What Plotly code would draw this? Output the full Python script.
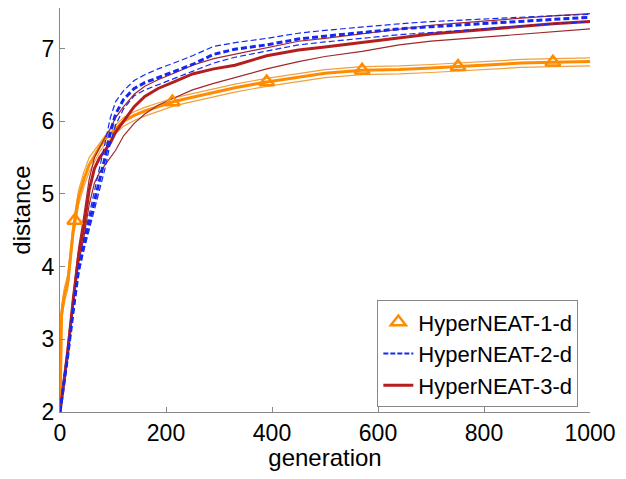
import numpy as np
import plotly.graph_objects as go

generation = [0, 3, 8, 15, 25, 35, 45, 55, 65, 75, 85, 95, 105, 120, 140, 160, 185, 215, 250,
              290, 330, 390, 450, 500, 570, 640, 700, 750, 800, 870, 930, 1000]

h1_mean = [2.0, 3.35, 3.6, 3.8, 4.5, 4.95, 5.2, 5.4, 5.52, 5.65, 5.75, 5.83, 5.9, 6.0, 6.08, 6.14,
           6.2, 6.27, 6.33, 6.4, 6.46, 6.54, 6.6, 6.66, 6.7, 6.71, 6.73, 6.75, 6.77, 6.8, 6.81, 6.82]
h1_upper = [2.0, 3.45, 3.7, 3.9, 4.6, 5.05, 5.3, 5.5, 5.6, 5.7, 5.8, 5.88, 5.95, 6.05, 6.13, 6.19,
            6.25, 6.32, 6.38, 6.45, 6.51, 6.59, 6.65, 6.71, 6.75, 6.76, 6.78, 6.8, 6.82, 6.85, 6.86, 6.87]
h1_lower = [2.0, 3.25, 3.5, 3.7, 4.4, 4.85, 5.1, 5.3, 5.44, 5.58, 5.68, 5.76, 5.83, 5.93, 6.01, 6.07,
            6.13, 6.21, 6.27, 6.34, 6.4, 6.48, 6.54, 6.6, 6.64, 6.65, 6.67, 6.69, 6.71, 6.74, 6.75, 6.76]

h2_mean = [2.0, 2.15, 2.45, 2.8, 3.4, 3.95, 4.3, 4.6, 4.9, 5.2, 5.5, 5.85, 6.1, 6.3, 6.45, 6.53,
           6.6, 6.68, 6.78, 6.92, 6.99, 7.05, 7.13, 7.17, 7.22, 7.27, 7.3, 7.32, 7.34, 7.37, 7.4, 7.43]
h2_upper = [2.0, 2.2, 2.5, 2.85, 3.45, 4.0, 4.38, 4.7, 5.05, 5.35, 5.7, 6.05, 6.27, 6.42, 6.56, 6.64,
            6.72, 6.8, 6.9, 7.03, 7.08, 7.14, 7.21, 7.25, 7.3, 7.34, 7.37, 7.39, 7.41, 7.43, 7.45, 7.47]
h2_lower = [2.0, 2.1, 2.4, 2.75, 3.35, 3.9, 4.22, 4.5, 4.78, 5.05, 5.35, 5.7, 5.95, 6.17, 6.35, 6.43,
            6.5, 6.58, 6.68, 6.8, 6.88, 6.96, 7.05, 7.09, 7.14, 7.19, 7.22, 7.25, 7.27, 7.31, 7.34, 7.37]

h3_mean = [2.0, 2.15, 2.45, 2.85, 3.55, 4.15, 4.55, 5.05, 5.35, 5.5, 5.6, 5.7, 5.85, 6.0, 6.2, 6.34,
           6.45, 6.54, 6.65, 6.72, 6.77, 6.9, 6.98, 7.02, 7.08, 7.15, 7.2, 7.23, 7.26, 7.3, 7.34, 7.37]
h3_upper = [2.0, 2.2, 2.5, 2.95, 3.65, 4.25, 4.7, 5.2, 5.5, 5.65, 5.78, 5.9, 6.05, 6.2, 6.37, 6.48,
            6.57, 6.66, 6.77, 6.86, 6.92, 7.02, 7.1, 7.14, 7.2, 7.27, 7.32, 7.35, 7.38, 7.42, 7.45, 7.48]
h3_lower = [2.0, 2.1, 2.4, 2.75, 3.45, 4.05, 4.4, 4.85, 5.15, 5.3, 5.4, 5.5, 5.6, 5.8, 5.97, 6.1,
            6.22, 6.32, 6.43, 6.52, 6.6, 6.72, 6.82, 6.89, 6.96, 7.05, 7.1, 7.13, 7.16, 7.2, 7.23, 7.27]

marker_generations = [28, 212, 390, 570, 751, 930]

x_ticks = [0, 200, 400, 600, 800, 1000]
y_ticks = [2, 3, 4, 5, 6, 7]

ORANGE = "#FF8C00"
ORANGE_T = "#F0A040"
BLUE = "#1428F0"
RED = "#B41E1E"
RED_T = "#A0282C"

fig = go.Figure()

def add_line(y, color, width, dash="solid"):
    fig.add_trace(go.Scatter(x=generation, y=y, mode="lines", showlegend=False,
                             line=dict(color=color, width=width, dash=dash)))

# HyperNEAT-1-d
add_line(h1_upper, ORANGE_T, 1.2)
add_line(h1_lower, ORANGE_T, 1.2)
add_line(h1_mean, ORANGE, 3)
# HyperNEAT-3-d
add_line(h3_upper, RED_T, 1.2)
add_line(h3_lower, RED_T, 1.2)
add_line(h3_mean, RED, 3)
# HyperNEAT-2-d
add_line(h2_upper, BLUE, 1.2, "6px,3px")
add_line(h2_lower, BLUE, 1.2, "6px,3px")
add_line(h2_mean, BLUE, 3, "6px,3px")

marker_y = np.interp(marker_generations, generation, h1_mean)
fig.add_trace(go.Scatter(x=marker_generations, y=marker_y, mode="markers", name="HyperNEAT-1-d",
                         marker=dict(symbol="triangle-up-open", size=13, color=ORANGE,
                                     line=dict(width=2.5, color=ORANGE))))
fig.add_trace(go.Scatter(x=[None], y=[None], mode="lines", name="HyperNEAT-2-d",
                         line=dict(color=BLUE, width=2, dash="5px,2px")))
fig.add_trace(go.Scatter(x=[None], y=[None], mode="lines", name="HyperNEAT-3-d",
                         line=dict(color=RED, width=3)))

FONT = "Liberation Sans, Arial"
axis_font = dict(family=FONT, size=23, color="black")
fig.update_layout(
    width=610, height=463,
    margin=dict(l=52, r=28, t=0, b=54),
    paper_bgcolor="white", plot_bgcolor="white",
    font=dict(family=FONT, color="black"),
    xaxis=dict(range=[0, 1000], tickvals=x_ticks, ticks="inside", ticklen=5, tickcolor="#888",
               showline=True, linecolor="#888", linewidth=1, showgrid=False, zeroline=False,
               tickfont=axis_font, title=dict(text="generation", font=dict(size=24), standoff=9)),
    yaxis=dict(range=[2, 7.557], tickvals=y_ticks, ticks="inside", ticklen=5, tickcolor="#888",
               showline=True, linecolor="#888", linewidth=1, showgrid=False, zeroline=False,
               tickfont=axis_font, title=dict(text="distance", font=dict(size=24), standoff=6)),
    legend=dict(x=0.978, y=0.012, xanchor="right", yanchor="bottom", bgcolor="white",
                bordercolor="#888", borderwidth=1, font=dict(size=22), tracegroupgap=0,
                itemwidth=30),
    showlegend=True,
)

fig.write_html("out.html")
